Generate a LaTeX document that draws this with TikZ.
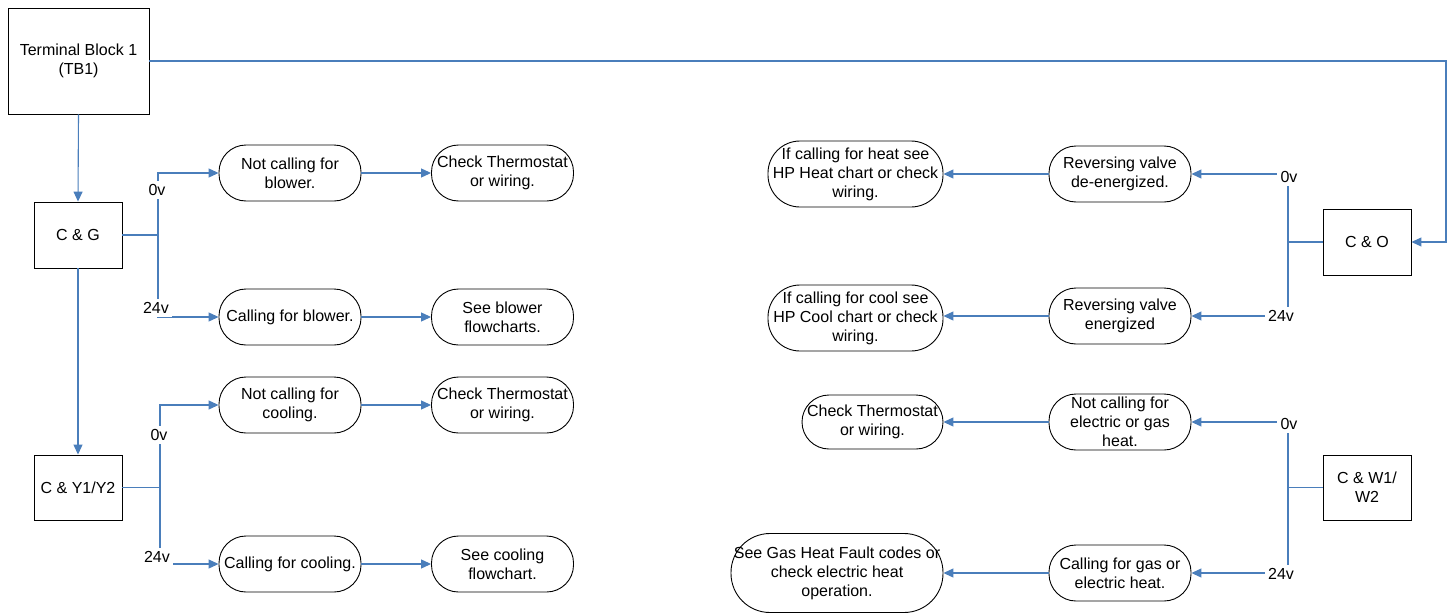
\documentclass[tikz,border=0pt]{standalone}
\usepackage{fontspec}
\setmainfont{Liberation Sans}
\usetikzlibrary{arrows.meta}
\definecolor{connc}{HTML}{4A7EBB}
\begin{document}
\begin{tikzpicture}[x=1pt,y=-1pt,
  every node/.style={font=\fontsize{16}{19}\selectfont, align=center, inner sep=0pt},
  sqbox/.style={draw=black, line width=0.9pt, rectangle},
  term/.style={draw=black, line width=0.9pt, rectangle, rounded corners=#1},
  term/.default=27pt,
  tw/.style={minimum width=142pt, minimum height=56pt},
  conn/.style={draw=connc, line width=1.1pt},
  arr/.style={conn, -{Triangle[length=10pt,width=9pt]}},
  vlab/.style={fill=white, inner sep=3.5pt}]
\fill[white] (0,0) rectangle (1453,613);
\useasboundingbox (0,0) rectangle (1453,613);

% square boxes
\node[sqbox, minimum width=141pt, minimum height=106pt] (tb) at (78.5,61) {Terminal Block 1\\(TB1)};
\node[sqbox, minimum width=88pt, minimum height=66pt] (cg) at (78,235) {C \& G};
\node[sqbox, minimum width=88pt, minimum height=65pt] (cy) at (78,487.5) {C \& Y1/Y2};
\node[sqbox, minimum width=88pt, minimum height=66pt] (co) at (1367,242) {C \& O};
\node[sqbox, minimum width=88pt, minimum height=65pt] (cw) at (1367,487.5) {C \& W1/\\W2};

% left terminators
\node[term, tw] (nb) at (290,173) {Not calling for\\blower.};
\node[term, tw] (ct1) at (502.5,173) {Check Thermostat\\or wiring.};
\node[term, tw] (cb) at (290,317) {Calling for blower.};
\node[term, tw] (sb) at (502.5,317) {See blower\\flowcharts.};
\node[term, tw] (nc) at (290,405) {Not calling for\\cooling.};
\node[term, tw] (ct2) at (502.5,405) {Check Thermostat\\or wiring.};
\node[term, tw] (cc) at (290,564) {Calling for cooling.};
\node[term, tw] (sc) at (502.5,564) {See cooling\\flowchart.};

% right terminators
\node[term, tw] (rvd) at (1120,174) {Reversing valve\\de-energized.};
\node[term=32pt, minimum width=175pt, minimum height=66pt] (ih) at (855.5,174) {If calling for heat see\\HP Heat chart or check\\wiring.};
\node[term, tw] (rve) at (1120,316) {Reversing valve\\energized};
\node[term=32pt, minimum width=175pt, minimum height=66pt] (ic) at (855.5,318) {If calling for cool see\\HP Cool chart or check\\wiring.};
\node[term, tw] (ne) at (1120,422) {Not calling for\\electric or gas\\heat.};
\node[term, minimum width=141pt, minimum height=54pt] (ct3) at (872.5,422) {Check Thermostat\\or wiring.};
\node[term, tw] (cgs) at (1120,573) {Calling for gas or\\electric heat.};
\node[term=39pt, minimum width=212pt, minimum height=79pt] (sg) at (837,573) {See Gas Heat Fault codes or\\check electric heat\\operation.};

% connectors
\coordinate (tbr) at (1446,61);
\draw[arr] (tb.south) -- (cg.north);
\draw[arr] (cg.south) -- (cy.north);
\draw[arr] (tb.east) -- (tbr) |- (co.east);

\coordinate (j1) at (158,235);
\draw[conn] (cg.east) -- (j1);
\draw[arr] (j1) |- (nb.west);
\draw[arr] (j1) |- (cb.west);
\draw[arr] (nb) -- (ct1);
\draw[arr] (cb) -- (sb);

\coordinate (j2) at (160,487.5);
\draw[conn] (cy.east) -- (j2);
\draw[arr] (j2) |- (nc.west);
\draw[arr] (j2) |- (cc.west);
\draw[arr] (nc) -- (ct2);
\draw[arr] (cc) -- (sc);

\coordinate (j3) at (1288,242);
\draw[conn] (co.west) -- (j3);
\draw[arr] (j3) |- (rvd.east);
\draw[arr] (j3) |- (rve.east);
\draw[arr] (rvd) -- (ih);
\draw[arr] (rve.west) -- (ic.east |- rve.west);

\coordinate (j4) at (1288,487.5);
\draw[conn] (cw.west) -- (j4);
\draw[arr] (j4) |- (ne.east);
\draw[arr] (j4) |- (cgs.east);
\draw[arr] (ne) -- (ct3);
\draw[arr] (cgs) -- (sg);

% labels
\node[vlab] (l1) at (157,190) {0v};
\node[vlab] (l2) at (156,308) {24v};
\node[vlab] (l3) at (159,435) {0v};
\node[vlab] (l4) at (157,557) {24v};
\node[vlab] (l5) at (1289,177) {0v};
\node[vlab] (l6) at (1281,316) {24v};
\node[vlab] (l7) at (1289,424) {0v};
\node[vlab] (l8) at (1281,574) {24v};
\end{tikzpicture}
\end{document}
